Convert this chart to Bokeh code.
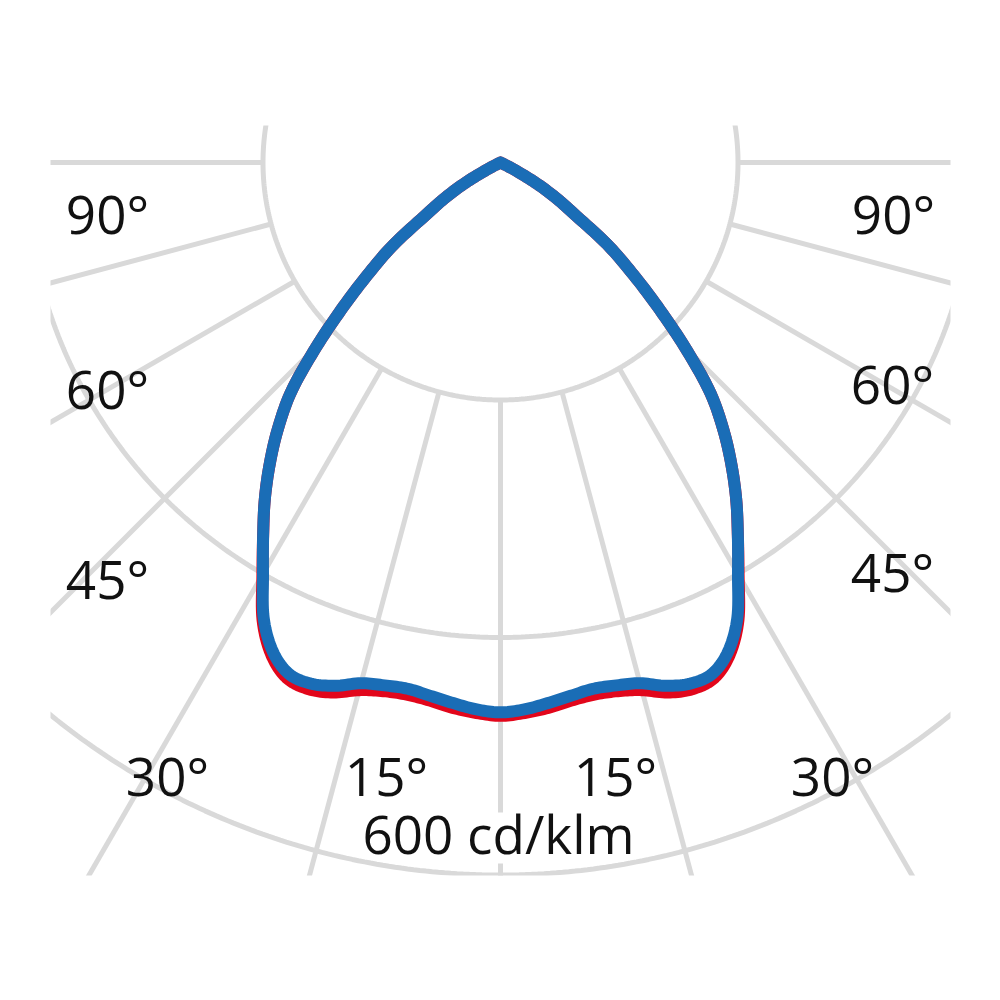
import numpy as np
from bokeh.plotting import figure
from bokeh.models import ColumnDataSource
from bokeh.embed import file_html
from bokeh.resources import INLINE
from bokeh.core.properties import value

# ---------------- data (cd/klm) ----------------
gamma_deg = [0, 2.5, 5, 7.5, 10, 12.5, 15, 17.5, 20, 22.5, 25, 27.5, 30,
             32.5, 35, 37.5, 40, 42.5, 45, 47.5, 50, 52.5, 55, 57.5, 60,
             62.5, 65, 75, 90]
intensity_c0_c180 = [463, 461, 457, 453, 450, 451, 454, 462, 467, 466, 454,
                     432, 400, 372, 346, 319, 291, 260, 219, 179, 144, 113,
                     76, 55, 34, 13, 0, 0, 0]
intensity_c90_c270 = [466, 464, 461, 457, 455, 456, 460, 468, 472, 470, 457,
                      434, 401, 372, 346, 319, 291, 260, 219, 179, 144, 113,
                      76, 55, 34, 13, 0, 0, 0]

ring_values = [200, 400, 600]
ray_angles = [-90, -75, -60, -45, -30, -15, 0, 15, 30, 45, 60, 75, 90]
angle_labels = ["90°", "90°", "60°", "60°", "45°", "45°", "30°", "15°", "15°", "30°"]
unit_label = "600 cd/klm"

# ---------------- layout (pixels relative to the pole, y up) ----------------
PX = 237.5 / 200.0          # pixels per cd/klm
TXT_DY = 22                 # baseline correction for svg text
label_pos = [(-393, -73), (393, -73), (-393, -248), (392, -243),
             (-393, -438), (392, -431), (-333, -635), (-114, -635),
             (115, -635), (332, -635)]
unit_pos = (-2, -693)

GRID = "#d9d9d9"
BLUE = "#1a6db6"
RED = "#e2061b"

p = figure(width=984, height=984, output_backend="svg", toolbar_location=None,
           x_range=(-450, 450), y_range=(-713, 37),
           min_border_left=50, min_border_right=34,
           min_border_top=125, min_border_bottom=109)
p.axis.visible = False
p.grid.visible = False
p.outline_line_color = None
p.background_fill_color = "white"
p.border_fill_color = "white"

# rings
t = np.linspace(0, 2 * np.pi, 721)
p.multi_line(xs=[list(v * PX * np.cos(t)) for v in ring_values],
             ys=[list(v * PX * np.sin(t)) for v in ring_values],
             line_color=GRID, line_width=5)

# rays (from first ring outwards), angle measured from nadir
a = np.radians(ray_angles)
r0, r1 = ring_values[0] * PX, 1200
p.segment(x0=r0 * np.sin(a), y0=-r0 * np.cos(a), x1=r1 * np.sin(a), y1=-r1 * np.cos(a),
          line_color=GRID, line_width=5)

# white gap behind the unit label
p.quad(left=[-97], right=[97], bottom=[-701], top=[-650], fill_color="white", line_color=None)


def smooth(x, y, n=10):
    # Catmull-Rom rendering through the read points
    P = np.column_stack([x, y])
    P = np.vstack([P[0], P, P[-1]])
    out = []
    for i in range(1, len(P) - 2):
        p0, p1, p2, p3 = P[i - 1], P[i], P[i + 1], P[i + 2]
        for s in np.linspace(0, 1, n, endpoint=False):
            out.append(0.5 * ((2 * p1) + (-p0 + p2) * s +
                              (2 * p0 - 5 * p1 + 4 * p2 - p3) * s ** 2 +
                              (-p0 + 3 * p1 - 3 * p2 + p3) * s ** 3))
    out.append(P[-2])
    out = np.array(out)
    return out[:, 0], out[:, 1]


def curve(vals):
    g = np.array(gamma_deg, dtype=float)
    v = np.array(vals, dtype=float)
    keep = (v > 0) | (np.arange(len(v)) == np.argmax(v <= 0))
    g, v = np.radians(g[keep]), v[keep] * PX
    gg = np.concatenate([-g[::-1], g[1:]])
    vv = np.concatenate([v[::-1], v[1:]])
    x, y = smooth(vv * np.sin(gg), -vv * np.cos(gg))
    return dict(x=x, y=y)


p.line(source=ColumnDataSource(curve(intensity_c90_c270)), x="x", y="y",
       line_color=RED, line_width=12, line_join="round", line_cap="round")
p.line(source=ColumnDataSource(curve(intensity_c0_c180)), x="x", y="y",
       line_color=BLUE, line_width=12, line_join="round", line_cap="round")

p.text(x=[q[0] for q in label_pos], y=[q[1] + TXT_DY for q in label_pos], text=angle_labels,
       text_font=value("Open Sans"), text_font_size="53px", text_color="#111111",
       text_align="center", text_baseline="alphabetic")
p.text(x=[unit_pos[0]], y=[unit_pos[1] + TXT_DY], text=[unit_label],
       text_font=value("Open Sans"), text_font_size="53px", text_color="#111111",
       text_align="center", text_baseline="alphabetic")

open("out.html", "w").write(file_html(p, INLINE))
